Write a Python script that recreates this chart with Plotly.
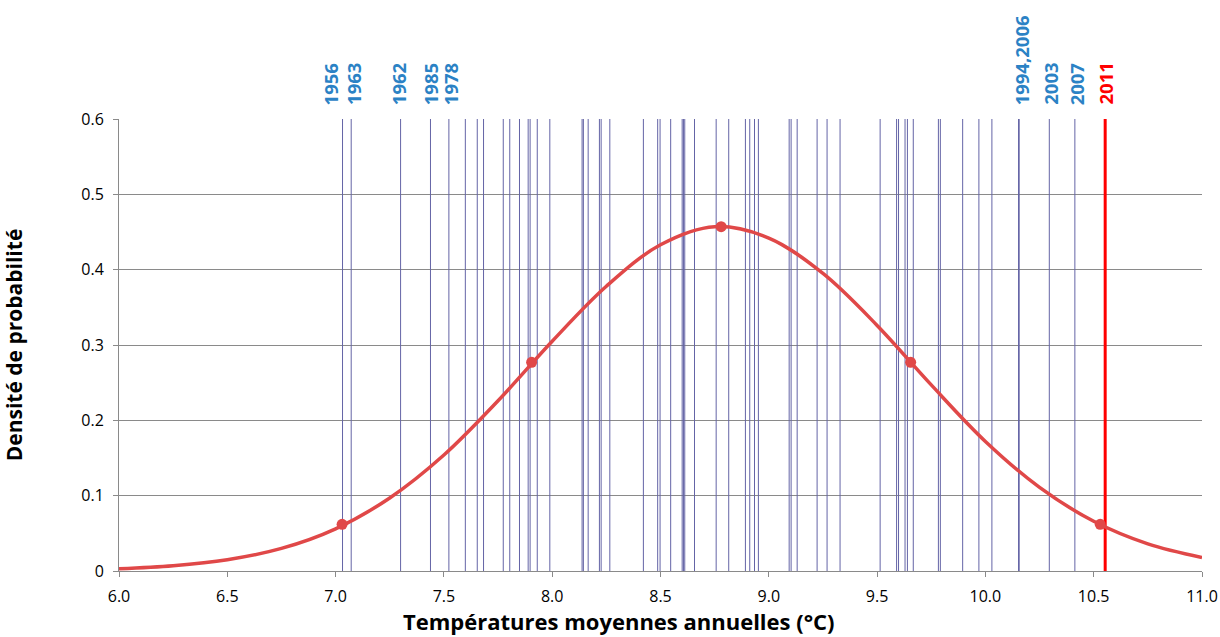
import plotly.graph_objects as go

# mean annual temperature of each year (degC), one vertical line per year
year_temps = [
    7.032, 7.072, 7.300, 7.438, 7.523, 7.599, 7.654, 7.683, 7.774, 7.804,
    7.849, 7.889, 7.898, 7.931, 7.989, 8.138, 8.144, 8.166, 8.218, 8.226,
    8.266, 8.421, 8.487, 8.498, 8.547, 8.600, 8.606, 8.612, 8.657, 8.757,
    8.815, 8.892, 8.912, 8.934, 8.952, 9.094, 9.103, 9.131, 9.223, 9.269,
    9.329, 9.514, 9.590, 9.599, 9.629, 9.640, 9.667, 9.783, 9.792, 9.895,
    9.970, 10.030, 10.153, 10.156, 10.295, 10.413,
]
temp_2011 = 10.553

# labelled years above the plot
label_years = ['1956', '1963', '1962', '1985', '1978', '1994,2006', '2003', '2007', '2011']
label_x = [6.976, 7.080, 7.289, 7.437, 7.529, 10.166, 10.297, 10.420, 10.550]

# probability density curve
curve_x = [6.0, 6.25, 6.5, 6.75, 7.0, 7.25, 7.5, 7.75, 8.0, 8.25, 8.5,
           8.75, 9.0, 9.25, 9.5, 9.75, 10.0, 10.25, 10.5, 10.75, 11.0]
curve_y = [0.003, 0.007, 0.015, 0.030, 0.056, 0.097, 0.154, 0.226, 0.305, 0.378, 0.433,
           0.457, 0.442, 0.395, 0.326, 0.247, 0.172, 0.111, 0.066, 0.036, 0.018]

# marked points (mean, +/- 1 and 2 sigma)
dots_x = [7.03, 7.905, 8.78, 9.655, 10.53]
dots_y = [0.062, 0.277, 0.457, 0.277, 0.062]

LINE_COLOR = '#6464A6'
CURVE_COLOR = '#E04848'
LABEL_BLUE = '#2B82C5'
AXIS_GRAY = '#8A8A8A'
FONT = 'Open Sans, sans-serif'

fig = go.Figure()

# year lines
lx, ly = [], []
for t in year_temps:
    lx += [t, t, None]
    ly += [0, 0.6, None]
fig.add_trace(go.Scatter(x=lx, y=ly, mode='lines',
                         line=dict(color=LINE_COLOR, width=1),
                         hoverinfo='skip', showlegend=False))

fig.add_trace(go.Scatter(x=[temp_2011, temp_2011], y=[0, 0.6], mode='lines',
                         line=dict(color='#FF0000', width=3),
                         hoverinfo='skip', showlegend=False))

fig.add_trace(go.Scatter(x=curve_x, y=curve_y, mode='lines',
                         line=dict(color=CURVE_COLOR, width=3.5, shape='spline'),
                         showlegend=False))

fig.add_trace(go.Scatter(x=dots_x, y=dots_y, mode='markers',
                         marker=dict(color=CURVE_COLOR, size=11),
                         showlegend=False))

for yr, x in zip(label_years, label_x):
    fig.add_annotation(
        x=x, y=1, xref='x', yref='paper', yshift=12,
        text='<b>%s</b>' % yr, textangle=-90, showarrow=False,
        xanchor='center', yanchor='bottom',
        font=dict(family=FONT, size=18.5, color='#FF0000' if yr == '2011' else LABEL_BLUE),
    )

# x axis title sits a little left of the plot centre
fig.add_annotation(
    x=0.4617, y=0, xref='paper', yref='paper', yshift=-50,
    text='<b>Températures moyennes annuelles (°C)</b>', showarrow=False,
    xanchor='center', yanchor='middle',
    font=dict(family=FONT, size=22, color='#000000'),
)

fig.update_layout(
    width=1220, height=637,
    margin=dict(l=119, r=18, t=119, b=66),
    plot_bgcolor='white', paper_bgcolor='white',
    font=dict(family=FONT, size=16, color='#000000'),
    xaxis=dict(
        range=[6.0, 11.0], dtick=0.5, tick0=6.0, tickformat='.1f',
        showgrid=False, zeroline=False, automargin=False,
        showline=True, linecolor=AXIS_GRAY, linewidth=1,
        ticks='outside', ticklen=5, tickcolor=AXIS_GRAY, ticklabelstandoff=6,
    ),
    yaxis=dict(
        range=[0, 0.6], dtick=0.1,
        showgrid=True, gridcolor=AXIS_GRAY, gridwidth=1, zeroline=False, automargin=False,
        showline=True, linecolor=AXIS_GRAY, linewidth=1,
        ticks='outside', ticklen=5, tickcolor=AXIS_GRAY, ticklabelstandoff=6,
        title=dict(text='<b>Densité de probabilité</b>',
                   font=dict(family=FONT, size=21), standoff=52),
    ),
)

# drop the default page margin so the figure sits at the window's corner
fig.write_html('out.html', config={'displayModeBar': False},
               post_script="document.body.style.margin='0';document.body.style.overflow='hidden';")
